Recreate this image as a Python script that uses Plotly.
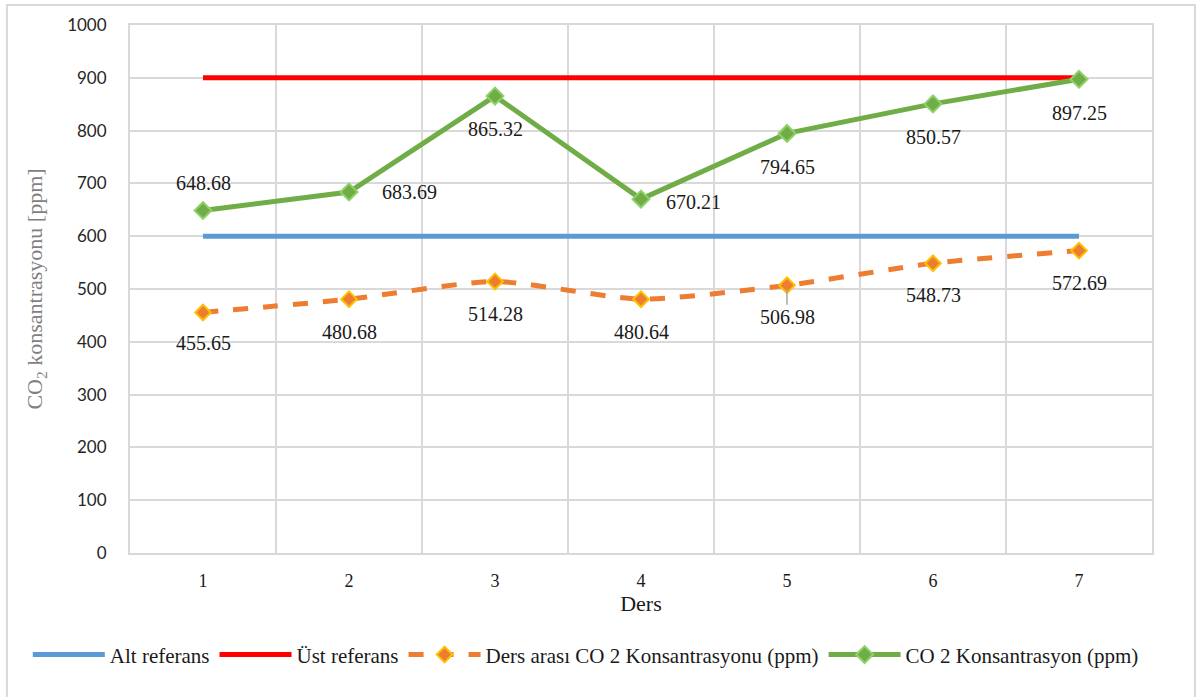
import plotly.graph_objects as go

categories = [1, 2, 3, 4, 5, 6, 7]
alt_referans = [600, 600, 600, 600, 600, 600, 600]
ust_referans = [900, 900, 900, 900, 900, 900, 900]
ders_arasi = [455.65, 480.68, 514.28, 480.64, 506.98, 548.73, 572.69]
co2 = [648.68, 683.69, 865.32, 670.21, 794.65, 850.57, 897.25]

# label placement: (xshift, yshift)
co2_label_pos = [(0, 28), (60, 0), (0, -33), (52, -3), (0, -34), (0, -33), (0, -34)]
ders_label_pos = [(0, -31), (0, -33), (0, -33), (0, -33), (0, -32), (0, -32), (0, -32)]

serif = "Liberation Serif, Times New Roman, serif"
label_font = dict(family=serif, size=20, color="#1a1a1a")

fig = go.Figure()
fig.add_trace(go.Scatter(x=categories, y=alt_referans, mode="lines", name="Alt referans",
                         line=dict(color="#5B9BD5", width=5)))
fig.add_trace(go.Scatter(x=categories, y=ust_referans, mode="lines", name="Üst referans",
                         line=dict(color="#FF0000", width=5)))
fig.add_trace(go.Scatter(x=categories, y=ders_arasi, mode="lines+markers",
                         name="Ders arası CO 2 Konsantrasyonu (ppm)",
                         line=dict(color="#ED7D31", width=5, dash="dash", shape="spline", smoothing=0.6),
                         marker=dict(symbol="diamond", size=12, color="#ED7D31",
                                     line=dict(color="#FFC000", width=2))))
fig.add_trace(go.Scatter(x=categories, y=co2, mode="lines+markers",
                         name="CO 2 Konsantrasyon (ppm)",
                         line=dict(color="#70AD47", width=5),
                         marker=dict(symbol="diamond", size=13, color="#70AD47",
                                     line=dict(color="#8FD16A", width=2))))

annotations = []
for xv, yv, (dx, dy) in zip(categories, co2, co2_label_pos):
    annotations.append(dict(x=xv, y=yv, text=f"{yv:.2f}", showarrow=False, xshift=dx, yshift=dy,
                            font=label_font))
for i, (xv, yv, (dx, dy)) in enumerate(zip(categories, ders_arasi, ders_label_pos)):
    if i == 4:
        annotations.append(dict(x=xv, y=yv, text=f"{yv:.2f}", showarrow=True, arrowhead=0,
                                arrowcolor="#A6A6A6", arrowwidth=1.5, ax=0, ay=-dy, standoff=4,
                                font=label_font))
    else:
        annotations.append(dict(x=xv, y=yv, text=f"{yv:.2f}", showarrow=False, xshift=dx, yshift=dy,
                                font=label_font))

fig.update_layout(
    width=1201, height=697,
    margin=dict(l=130, r=49, t=25, b=144),
    paper_bgcolor="white", plot_bgcolor="white",
    showlegend=True,
    legend=dict(orientation="h", x=-0.1, xanchor="left", y=-0.193, yanchor="middle",
                font=dict(family=serif, size=21, color="#1a1a1a"), traceorder="normal",
                itemwidth=72),
    annotations=annotations,
    shapes=[dict(type="rect", xref="paper", yref="paper", x0=-0.1204, x1=1.042, y0=-0.32, y1=1.038,
                 line=dict(color="#D9D9D9", width=2), layer="below")],
    xaxis=dict(range=[0.5, 7.5], tickvals=categories, ticktext=[str(c) for c in categories],
               showgrid=False, zeroline=False, showline=True, mirror=True, linecolor="#D9D9D9", linewidth=2,
               ticks="", ticklabelstandoff=10,
               tickfont=dict(family=serif, size=18, color="#1a1a1a"),
               minor=dict(tick0=0.5, dtick=1, showgrid=True, gridcolor="#D9D9D9", gridwidth=2, ticks=""),
               title=dict(text="Ders", font=dict(family=serif, size=22, color="#1a1a1a"), standoff=0)),
    yaxis=dict(range=[0, 1000], dtick=100, showgrid=True, gridcolor="#D9D9D9", gridwidth=2,
               zeroline=False, showline=True, mirror=True, linecolor="#D9D9D9", linewidth=2,
               ticks="", ticklabelstandoff=18,
               tickfont=dict(family="Lato", size=17, color="#262626"),
               title=dict(text="CO<sub>2</sub> konsantrasyonu [ppm]",
                          font=dict(family=serif, size=22, color="#7F7F7F"), standoff=18)),
)

fig.write_html("out.html", config={"displayModeBar": False},
               post_script="document.body.style.margin='0px';")
